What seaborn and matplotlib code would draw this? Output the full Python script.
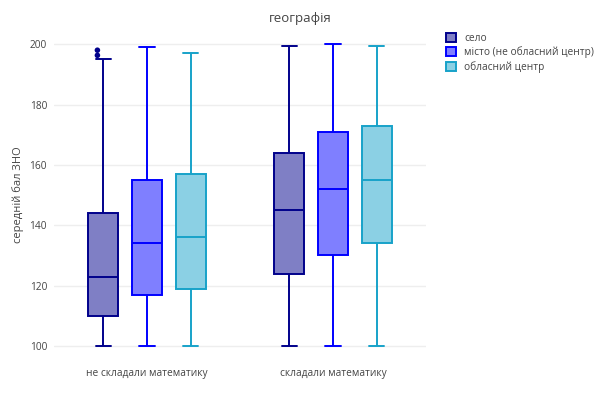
import numpy as np
import pandas as pd
import matplotlib
matplotlib.use('Agg')
import matplotlib.pyplot as plt
import matplotlib.patches as mpatches
import seaborn as sns

# categories and hue levels
groups = ['не складали математику', 'складали математику']
places = ['село', 'місто (не обласний центр)', 'обласний центр']

# five-number summary: min, q1, median, q3, max
selo_stats = [[100, 110, 123, 144, 195], [100, 124, 145, 164, 199.5]]
misto_stats = [[100, 117, 134, 155, 199], [100, 130, 152, 171, 200]]
oblast_stats = [[100, 119, 136, 157, 197], [100, 134, 155, 173, 199.5]]

# outliers (only село, не складали)
outlier_values = [196.3, 198]

line_colors = ['#00008b', '#0000ff', '#17a2c9']
fill_colors = ['#7f7fc5', '#7f7fff', '#8bd0e4']

rows = []
for place, stats in zip(places, [selo_stats, misto_stats, oblast_stats]):
    for grp, vals in zip(groups, stats):
        for v in vals:
            rows.append({'math': grp, 'place': place, 'score': v})
df = pd.DataFrame(rows)
out_df = pd.DataFrame({'math': groups[0], 'place': places[0], 'score': outlier_values})

sns.set_theme(style='white')
plt.rcParams['font.family'] = ['Open Sans', 'DejaVu Sans']

fig = plt.figure(figsize=(6, 3.99), dpi=100)
ax = fig.add_axes([0.09, 0.11, 0.62, 0.802])

for i, place in enumerate(places):
    sns.boxplot(data=df[df['place'] == place], x='math', y='score', hue='place',
                order=groups, hue_order=places, palette=fill_colors, saturation=1,
                linecolor=line_colors[i], linewidth=1.4, whis=np.inf,
                width=0.705, gap=0.31, dodge=True, legend=False, ax=ax)

sns.stripplot(data=out_df, x='math', y='score', hue='place', order=groups,
              hue_order=places, palette=line_colors, dodge=True, jitter=False,
              size=4, legend=False, ax=ax, zorder=5)

ax.set_xlim(-0.5, 1.5)
ax.set_ylim(97, 203)
ax.set_yticks([100, 120, 140, 160, 180, 200])
ax.grid(axis='y', color='#eeeeee', linewidth=1)
ax.set_axisbelow(True)
for s in ax.spines.values():
    s.set_visible(False)
ax.tick_params(axis='both', length=0, labelsize=7.3, labelcolor='#444444', pad=5)
ax.tick_params(axis='x', pad=9)
ax.set_xlabel('')
ax.set_ylabel('середній бал ЗНО', fontsize=8, color='#444444', labelpad=4)

fig.suptitle('географія', x=0.5, y=0.97, fontsize=9.5, color='#444444')

handles = [mpatches.Patch(facecolor=f, edgecolor=l, linewidth=1.4, label=p)
           for p, f, l in zip(places, fill_colors, line_colors)]
fig.legend(handles=handles, loc='upper left', bbox_to_anchor=(0.728, 0.94),
           frameon=False, fontsize=7.3, labelcolor='#444444', handlelength=1.0,
           handleheight=1.0, handletextpad=0.8, labelspacing=0.25)

fig.savefig('out.png', dpi=100)
